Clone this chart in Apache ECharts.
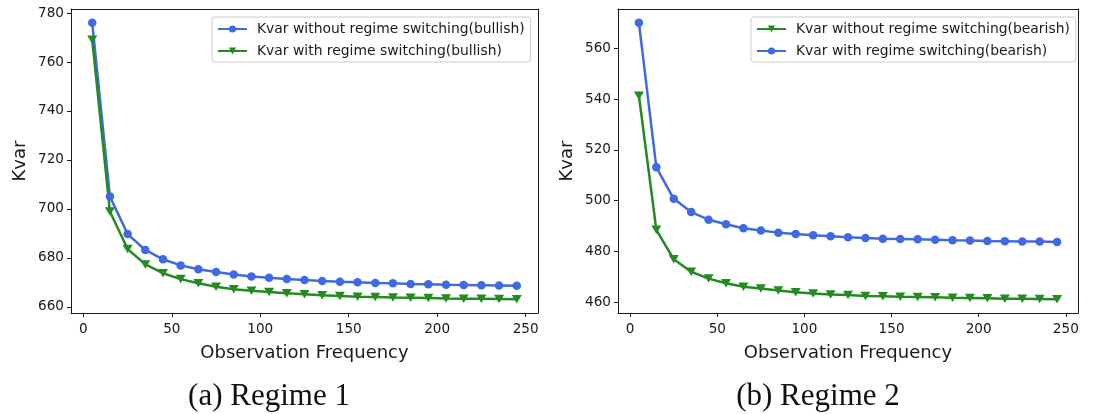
<!DOCTYPE html>
<html>
<head>
<meta charset="utf-8">
<script src="https://cdn.jsdelivr.net/npm/echarts@6/dist/echarts.min.js"></script>
<style>
  html, body { margin: 0; padding: 0; background: #fff; }
  #chart { width: 1095px; height: 414px; }
</style>
</head>
<body>
<div id="chart"></div>
<script>
// Observation frequencies (x values shared by every series)
const frequencies = [5, 15, 25, 35, 45, 55, 65, 75, 85, 95, 105, 115, 125, 135, 145,
                     155, 165, 175, 185, 195, 205, 215, 225, 235, 245];

// Regime 1 (bullish)
const bullWithout = [776.0, 705.0, 689.7, 683.2, 679.4, 676.9, 675.3, 674.2, 673.2, 672.4,
                     671.9, 671.3, 670.9, 670.5, 670.2, 670.0, 669.7, 669.6, 669.3, 669.2,
                     669.0, 668.9, 668.8, 668.7, 668.6];
const bullWith    = [769.1, 698.9, 683.6, 677.3, 673.7, 671.3, 669.6, 668.2, 667.2, 666.5,
                     666.0, 665.5, 665.1, 664.7, 664.4, 664.1, 664.0, 663.8, 663.7, 663.6,
                     663.4, 663.3, 663.3, 663.2, 663.1];

// Regime 2 (bearish)
const bearWithout = [541.3, 488.5, 476.9, 472.0, 469.3, 467.5, 466.1, 465.4, 464.6, 463.9,
                     463.4, 463.0, 462.8, 462.5, 462.4, 462.2, 462.1, 462.0, 461.8, 461.7,
                     461.6, 461.4, 461.4, 461.3, 461.2];
const bearWith    = [570.0, 513.1, 500.7, 495.5, 492.5, 490.7, 489.1, 488.2, 487.4, 486.9,
                     486.4, 486.0, 485.6, 485.3, 485.0, 484.9, 484.8, 484.6, 484.4, 484.3,
                     484.1, 484.0, 483.9, 483.9, 483.7];

// Tick labels
const xTicks = [0, 50, 100, 150, 200, 250];
const yTicksRegime1 = [660, 680, 700, 720, 740, 760, 780];
const yTicksRegime2 = [460, 480, 500, 520, 540, 560];

const BLUE = '#4169E1';
const GREEN = '#228B22';
const INK = '#1a1a1a';
const SANS = 'DejaVu Sans';

// Axis range padded by 5% of the data span on each side
function padded(values) {
  const lo = Math.min(...values), hi = Math.max(...values);
  const m = (hi - lo) * 0.05;
  return { min: lo - m, max: hi + m };
}

const xRange = padded(frequencies);
const y1Range = padded(bullWithout.concat(bullWith));
const y2Range = padded(bearWithout.concat(bearWith));

function pairs(ys) { return ys.map((y, i) => [frequencies[i], y]); }

function xAxis(gridIndex) {
  return {
    type: 'value', gridIndex,
    min: xRange.min, max: xRange.max,
    name: 'Observation Frequency', nameLocation: 'middle', nameGap: 31,
    nameTextStyle: { fontFamily: SANS, fontSize: 18, color: INK },
    axisLine: { show: true, onZero: false, lineStyle: { color: INK, width: 1 } },
    axisTick: { show: true, length: 4, customValues: xTicks, lineStyle: { color: INK, width: 1 } },
    axisLabel: { customValues: xTicks, margin: 9, fontFamily: SANS, fontSize: 13.6, color: INK },
    splitLine: { show: false }
  };
}
function topAxis(gridIndex) {
  return {
    type: 'value', gridIndex, position: 'top',
    min: xRange.min, max: xRange.max,
    axisLine: { show: true, onZero: false, lineStyle: { color: INK, width: 1 } },
    axisTick: { show: false }, axisLabel: { show: false }, splitLine: { show: false }
  };
}
function yAxis(gridIndex, range, ticks, nameGap) {
  return {
    type: 'value', gridIndex,
    min: range.min, max: range.max,
    name: 'Kvar', nameLocation: 'middle', nameGap,
    nameTextStyle: { fontFamily: SANS, fontSize: 18, color: INK },
    axisLine: { show: true, onZero: false, lineStyle: { color: INK, width: 1 } },
    axisTick: { show: true, length: 4, customValues: ticks, lineStyle: { color: INK, width: 1 } },
    axisLabel: { customValues: ticks, margin: 7, fontFamily: SANS, fontSize: 13.6, color: INK },
    splitLine: { show: false }
  };
}
function rightAxis(gridIndex, range) {
  return {
    type: 'value', gridIndex, position: 'right',
    min: range.min, max: range.max,
    axisLine: { show: true, onZero: false, lineStyle: { color: INK, width: 1 } },
    axisTick: { show: false }, axisLabel: { show: false }, splitLine: { show: false }
  };
}

function lineSeries(name, color, symbol, data, xIdx, yIdx) {
  const isTri = symbol === 'triangle';
  return {
    name, type: 'line', xAxisIndex: xIdx, yAxisIndex: yIdx,
    data: pairs(data),
    symbol, symbolSize: isTri ? [10, 8.5] : 8.5, symbolRotate: isTri ? 180 : 0,
    showAllSymbol: true,
    lineStyle: { color, width: 2.5 },
    itemStyle: { color, borderWidth: 0 },
    emphasis: { disabled: true },
    animation: false
  };
}

function legend(left, names) {
  return {
    data: names, orient: 'vertical', left, top: 17,
    itemWidth: 29, itemHeight: 9, itemGap: 8, align: 'left',
    padding: [5, 6, 4, 5],
    backgroundColor: 'rgba(255,255,255,0.8)', borderColor: '#cccccc', borderWidth: 1, borderRadius: 3,
    textStyle: { fontFamily: SANS, fontSize: 13.9, color: INK, lineHeight: 10, padding: [0, 0, 0, 5] },
    selectedMode: false
  };
}

const option = {
  backgroundColor: '#ffffff',
  animation: false,
  grid: [
    { left: 71, top: 9, width: 467, height: 304 },
    { left: 618, top: 9, width: 460, height: 304 }
  ],
  xAxis: [xAxis(0), xAxis(1), topAxis(0), topAxis(1)],
  yAxis: [yAxis(0, y1Range, yTicksRegime1, 42), yAxis(1, y2Range, yTicksRegime2, 42),
          rightAxis(0, y1Range), rightAxis(1, y2Range)],
  legend: [
    legend(212, ['Kvar without regime switching(bullish)', 'Kvar with regime switching(bullish)']),
    legend(751, ['Kvar without regime switching(bearish)', 'Kvar with regime switching(bearish)'])
  ],
  title: [
    { text: '(a) Regime 1', left: 264, top: 376, textAlign: 'center',
      textStyle: { fontFamily: 'Liberation Serif', fontSize: 31, fontWeight: 'normal', color: '#111' } },
    { text: '(b) Regime 2', left: 813, top: 376, textAlign: 'center',
      textStyle: { fontFamily: 'Liberation Serif', fontSize: 31, fontWeight: 'normal', color: '#111' } }
  ],
  series: [
    lineSeries('Kvar without regime switching(bullish)', BLUE, 'circle', bullWithout, 0, 0),
    lineSeries('Kvar with regime switching(bullish)', GREEN, 'triangle', bullWith, 0, 0),
    lineSeries('Kvar without regime switching(bearish)', GREEN, 'triangle', bearWithout, 1, 1),
    lineSeries('Kvar with regime switching(bearish)', BLUE, 'circle', bearWith, 1, 1)
  ]
};

const chart = echarts.init(document.getElementById('chart'), null, { renderer: 'canvas' });
chart.setOption(option);
</script>
</body>
</html>
